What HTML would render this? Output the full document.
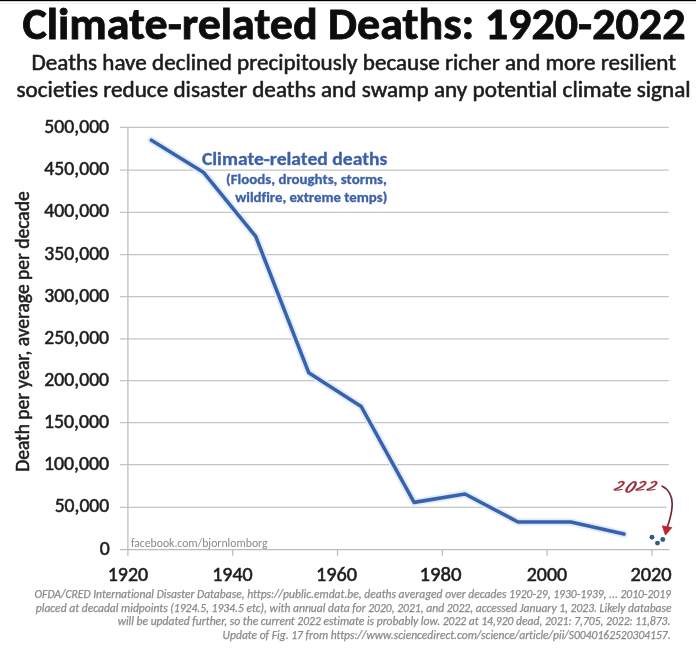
<!DOCTYPE html>
<html lang="en">
<head>
<meta charset="utf-8">
<title>Climate-related Deaths: 1920-2022</title>
<style>
html,body{margin:0;padding:0;background:#fff;width:696px;height:648px;overflow:hidden;}
svg{display:block;filter:blur(0.5px);}
text{font-family:"Carlito","Liberation Sans",sans-serif;font-variant-ligatures:none;font-feature-settings:"liga" 0,"clig" 0;}
</style>
</head>
<body>
<svg width="696" height="648" viewBox="0 0 696 648">
<rect x="0" y="0" width="696" height="648" fill="#fff"/>
<rect x="0" y="0" width="696" height="1.2" fill="#000"/>
<rect x="0" y="3" width="696" height="1" fill="#f0f0f0"/>

<!-- Title -->
<text id="title" x="22.4" y="38.8" font-size="45" font-weight="bold" fill="#0d0d0d" stroke="#0d0d0d" stroke-width="0.8" textLength="663.1" lengthAdjust="spacingAndGlyphs">Climate-related Deaths: 1920-2022</text>
<!-- Subtitle -->
<text id="sub1" x="31.6" y="69.5" font-size="22" fill="#1c1c1c" stroke="#1c1c1c" stroke-width="0.55" textLength="644.4" lengthAdjust="spacingAndGlyphs">Deaths have declined precipitously because richer and more resilient</text>
<text id="sub2" x="16.5" y="97" font-size="22" fill="#1c1c1c" stroke="#1c1c1c" stroke-width="0.55" textLength="674.1" lengthAdjust="spacingAndGlyphs">societies reduce disaster deaths and swamp any potential climate signal</text>

<!-- gridlines -->
<g stroke="#c4c4c4" stroke-width="1.25" fill="none">
<line x1="120" y1="127.4" x2="668.8" y2="127.4"/>
<line x1="120" y1="170.2" x2="668.8" y2="170.2"/>
<line x1="120" y1="212.3" x2="668.8" y2="212.3"/>
<line x1="120" y1="254.7" x2="668.8" y2="254.7"/>
<line x1="120" y1="296.6" x2="668.8" y2="296.6"/>
<line x1="120" y1="338.8" x2="668.8" y2="338.8"/>
<line x1="120" y1="380.5" x2="668.8" y2="380.5"/>
<line x1="120" y1="422.5" x2="668.8" y2="422.5"/>
<line x1="120" y1="464.7" x2="668.8" y2="464.7"/>
<line x1="120" y1="507.3" x2="666.6" y2="507.3"/>
</g>
<g stroke="#bbbbbb" stroke-width="1.25" fill="none">
<line x1="120" y1="549.6" x2="669.4" y2="549.6"/>
<line x1="127.9" y1="127" x2="127.9" y2="555.8"/>
<line x1="232.7" y1="549.6" x2="232.7" y2="555.8"/>
<line x1="337.5" y1="549.6" x2="337.5" y2="555.8"/>
<line x1="442.3" y1="549.6" x2="442.3" y2="555.8"/>
<line x1="547.1" y1="549.6" x2="547.1" y2="555.8"/>
<line x1="651.9" y1="549.6" x2="651.9" y2="555.8"/>
</g>

<!-- y axis labels -->
<g font-size="19.6" fill="#1e1e1e" stroke="#1e1e1e" stroke-width="0.55">
<text id="y500" x="44.3" y="132.5" textLength="64.8" lengthAdjust="spacingAndGlyphs">500,000</text>
<text id="y450" x="44.3" y="175.3" textLength="64.8" lengthAdjust="spacingAndGlyphs">450,000</text>
<text id="y400" x="44.3" y="217.4" textLength="64.8" lengthAdjust="spacingAndGlyphs">400,000</text>
<text id="y350" x="44.3" y="259.8" textLength="64.8" lengthAdjust="spacingAndGlyphs">350,000</text>
<text id="y300" x="44.3" y="301.7" textLength="64.8" lengthAdjust="spacingAndGlyphs">300,000</text>
<text id="y250" x="44.3" y="343.9" textLength="64.8" lengthAdjust="spacingAndGlyphs">250,000</text>
<text id="y200" x="44.3" y="385.6" textLength="64.8" lengthAdjust="spacingAndGlyphs">200,000</text>
<text id="y150" x="43.9" y="427.6" textLength="65.3" lengthAdjust="spacingAndGlyphs">150,000</text>
<text id="y100" x="43.9" y="469.8" textLength="65.3" lengthAdjust="spacingAndGlyphs">100,000</text>
<text id="y50" x="54.7" y="512.4" textLength="54.5" lengthAdjust="spacingAndGlyphs">50,000</text>
<text id="y0" x="99.8" y="554.6" textLength="10.0" lengthAdjust="spacingAndGlyphs">0</text>
</g>
<!-- x axis labels -->
<g font-size="19.6" fill="#1e1e1e" stroke="#1e1e1e" stroke-width="0.55">
<text id="x1920" x="107.7" y="581.3" textLength="40.4" lengthAdjust="spacingAndGlyphs">1920</text>
<text id="x1940" x="212.2" y="581.3" textLength="40.4" lengthAdjust="spacingAndGlyphs">1940</text>
<text id="x1960" x="316.0" y="581.3" textLength="41.1" lengthAdjust="spacingAndGlyphs">1960</text>
<text id="x1980" x="419.6" y="581.3" textLength="42.0" lengthAdjust="spacingAndGlyphs">1980</text>
<text id="x2000" x="526.8" y="581.3" textLength="40.3" lengthAdjust="spacingAndGlyphs">2000</text>
<text id="x2020" x="630.4" y="581.3" textLength="41.2" lengthAdjust="spacingAndGlyphs">2020</text>
</g>
<!-- y axis title -->
<text transform="translate(28.7,471.8) rotate(-90)" font-size="19.5" fill="#1e1e1e" stroke="#1e1e1e" stroke-width="0.55" textLength="280.5" lengthAdjust="spacingAndGlyphs">Death per year, average per decade</text>

<!-- data line -->
<polyline fill="none" stroke="#e3ecf8" stroke-width="7.5" stroke-linejoin="round" stroke-linecap="round" points="151.4,140.2 203.3,172.2 255.7,236.4 308.7,372.7 361.2,406.5 414.1,502.4 465,494 518,522 570.8,522 624,534.1"/>
<polyline fill="none" stroke="#3762ad" stroke-width="3.6" stroke-linejoin="round" stroke-linecap="round"
 points="151.4,140.2 203.3,172.2 255.7,236.4 308.7,372.7 361.2,406.5 414.1,502.4 465,494 518,522 570.8,522 624,534.1"/>

<!-- legend -->
<g font-weight="bold" fill="#3d61a8" stroke="#3d61a8" stroke-width="0.3">
<text id="leg1" x="201.9" y="164.5" font-size="18.3" textLength="185.5" lengthAdjust="spacingAndGlyphs">Climate-related deaths</text>
<text id="leg2" x="226.0" y="184.3" font-size="13.9" textLength="160.9" lengthAdjust="spacingAndGlyphs">(Floods, droughts, storms,</text>
<text id="leg3" x="235.2" y="201.7" font-size="13.9" textLength="152.1" lengthAdjust="spacingAndGlyphs">wildfire, extreme temps)</text>
</g>

<!-- watermark -->
<text id="fb" x="130.9" y="546.8" font-size="11.6" fill="#8a8a8a" textLength="136.6" lengthAdjust="spacingAndGlyphs">facebook.com/bjornlomborg</text>

<!-- 2022 dots -->
<g fill="#2f5b85">
<circle cx="652" cy="537.2" r="2.45"/>
<circle cx="657.5" cy="543.1" r="2.45"/>
<circle cx="662.8" cy="539.5" r="2.45"/>
</g>
<!-- annotation -->
<text id="ann" x="612.5" y="491" font-size="13.8" font-weight="normal" font-style="italic" fill="#9a2e3c" stroke="#9a2e3c" stroke-width="0.3" style="font-family:'Kalam','Liberation Serif',serif" textLength="43.6" lengthAdjust="spacingAndGlyphs">2<tspan y="492.6" font-size="16.2">0</tspan><tspan y="491">22</tspan></text>
<path d="M662.2,486.2 C668.5,489 672.3,496 672.2,504 C672.1,512.5 669.8,520 667.2,527.5" fill="none" stroke="#722a36" stroke-width="1.7" stroke-linecap="round"/>
<path d="M662.2,525.8 L671.9,527.6 L665.4,535.2 Z" fill="#c41f2b" stroke="#b01e2a" stroke-width="0.6" stroke-linejoin="round"/>

<!-- footnote -->
<g font-size="11.5" font-style="italic" fill="#8a8a8a" stroke="#8a8a8a" stroke-width="0.25">
<text id="fn1" x="34.5" y="597.6" textLength="636.4" lengthAdjust="spacingAndGlyphs">OFDA/CRED International Disaster Database, https://public.emdat.be, deaths averaged over decades 1920-29, 1930-1939, ... 2010-2019</text>
<text id="fn2" x="35.8" y="612" textLength="635.8" lengthAdjust="spacingAndGlyphs">placed at decadal midpoints (1924.5, 1934.5 etc), with annual data for 2020, 2021, and 2022, accessed January 1, 2023. Likely database</text>
<text id="fn3" x="117.7" y="624.9" textLength="552.7" lengthAdjust="spacingAndGlyphs">will be updated further, so the current 2022 estimate is probably low. 2022 at 14,920 dead, 2021: 7,705, 2022: 11,873.</text>
<text id="fn4" x="222.6" y="638.6" textLength="448.0" lengthAdjust="spacingAndGlyphs">Update of Fig. 17 from https://www.sciencedirect.com/science/article/pii/S0040162520304157.</text>
</g>
</svg>
</body>
</html>
